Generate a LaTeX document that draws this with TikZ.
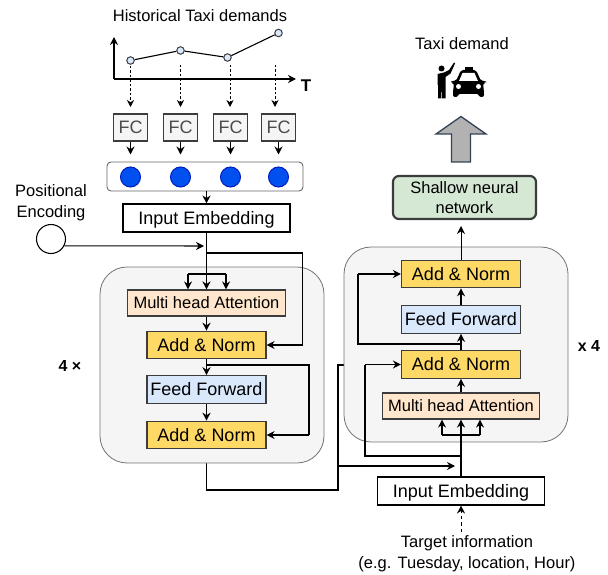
\documentclass[tikz,border=0pt]{standalone}
\usepackage{fontspec}
\setmainfont{Liberation Sans}
\definecolor{addfill}{HTML}{FFD966}
\definecolor{feedfill}{HTML}{DAE8FC}
\definecolor{attfill}{HTML}{FFE6CC}
\definecolor{shalfill}{HTML}{D5E8D4}
\definecolor{panelfill}{HTML}{F5F5F5}
\definecolor{edgegray}{HTML}{3C3C3C}
\definecolor{dotblue}{HTML}{0050EF}
\definecolor{dotedge}{HTML}{001DBC}
\definecolor{upedge}{HTML}{314354}
\usetikzlibrary{arrows.meta}
\tikzset{
  wire/.style = {-{Stealth[length=8pt,width=8pt]}, line width = 1.05pt},
  plainwire/.style = {line width = 1.05pt},
  dashwire/.style = {-{Stealth[length=7pt,width=7pt]}, dash pattern = on 2.5pt off 2pt, line width = .7pt},
  box/.style = {draw = edgegray, line width = 1.1pt, minimum height = 27.5pt, inner sep = 0pt, font = \fontsize{18}{18}\selectfont},
  addbox/.style = {box, fill = addfill, minimum width = 119pt},
  feedbox/.style = {box, fill = feedfill, minimum width = 119pt},
  attbox/.style = {box, fill = attfill, minimum width = 157.5pt, minimum height = 26pt, font = \fontsize{16.5}{16.5}\selectfont},
  embbox/.style = {draw = black, line width = 1.05pt, minimum width = 167pt, minimum height = 28pt, inner sep = 0pt, text height = 15.5pt, text depth = 2pt, font = \fontsize{18}{18}\selectfont},
  fcbox/.style = {draw = edgegray, fill = panelfill, line width = 1.1pt, minimum width = 34pt, minimum height = 27pt, inner sep = 0pt, text = black!70, font = \fontsize{18}{18}\selectfont},
  panel/.style = {draw = black!55, fill = panelfill, line width = .8pt, rounded corners = 27pt},
  blob/.style = {circle, draw = dotedge, fill = dotblue, line width = 1pt, minimum size = 20pt, inner sep = 0pt},
  point/.style = {circle, draw = edgegray, fill = feedfill, line width = 1pt, minimum size = 7.5pt, inner sep = 0pt},
  txt/.style = {inner sep = 0pt, align = center, font = \fontsize{16.5}{20.5}\selectfont},
  count/.style = {inner sep = 0pt, font = \bfseries\fontsize{16}{16}\selectfont}
}
\begin{document}
\begin{tikzpicture}
      [x = 1pt, y = -1pt]
      \useasboundingbox (0,0) rectangle (608,575);
      \node[txt] (histlabel) at (200,15.5) {Historical Taxi demands};
      \coordinate (origin) at (114,79);
      \coordinate (ytop) at (114,37);
      \coordinate (xend) at (296,79);
      \draw[wire, line width = 1.3pt] (origin) -- (ytop);
      \draw[wire, line width = 1.3pt] (origin) -- (xend);
      \node[inner sep = 0pt, font = \bfseries\fontsize{17}{17}\selectfont] (tlabel) at (306,86) {T};
      \foreach \n/\x/\y in {1/130.5/60.5, 2/180.5/50.5, 3/227.5/57.5, 4/278.5/33}
        \node[point] (m\n) at (\x,\y) {};
      \draw[line width = 1.1pt] (m1) -- (m2) -- (m3) -- (m4);
      \foreach \n/\x in {1/130.5, 2/180.5, 3/230.5, 4/278.5} {
        \node[fcbox] (fc\n) at (\x,127.5) {FC};
        \node[blob] (blob\n) at (\x,177) {};
        \draw[wire, shorten >= 12pt] (fc\n) -- (blob\n);
      }
      \foreach \n/\x/\y in {1/130.5/66, 2/180.5/65, 3/230/65, 4/275/65} {
        \coordinate (ds\n) at (\x,\y);
        \coordinate (de\n) at (\x,107);
        \draw[dashwire] (ds\n) -- (de\n);
      }
      \node[draw = black!60, line width = .9pt, rounded corners = 4pt, minimum width = 196pt, minimum height = 29pt, inner sep = 0pt] (blobrow) at (205,176.5) {};
      \node[embbox] (embleft) at (206.5,218) {Input Embedding};
      \draw[wire] (blobrow.south -| embleft) -- (embleft);
      \node[txt] (poslabel) at (51,202.5) {Positional\\Encoding};
      \node[circle, draw = black, line width = 1.05pt, fill = white, minimum size = 29pt, inner sep = 0pt] (posenc) at (51,239) {};
      \coordinate (posend) at (204,246);
      \draw[wire] (posenc.-27) -- (posend);

      \coordinate (leftsplit) at (206.5,253);
      \coordinate (leftdown) at (206.5,490);
      \coordinate (crossbot) at (338,490);
      \coordinate (crosstop) at (338,365);
      \coordinate (crossmid) at (338,466);
      \coordinate (crossend) at (455,466);
      \coordinate (crossin) at (350,365);
      \node[inner sep = 0pt, minimum size = 0pt] (lastleft) at (206.5,449) {};
      \draw[plainwire] (lastleft) -- (leftdown) -- (crossbot) -- (crosstop) -- (crossin);
      \draw[wire] (crossmid) -- (crossend);

      \draw[panel] (100,267) rectangle (324,463);
      \draw[panel] (344,247) rectangle (568,442);

      \node[attbox] (attleft) at (206.5,303) {Multi head Attention};
      \node[addbox] (addlefta) at (206.5,345) {Add \& Norm};
      \node[feedbox] (feedleft) at (206.5,389.5) {Feed Forward};
      \node[addbox] (addleftb) at (206.5,435) {Add \& Norm};
      \coordinate (leftbl) at (188,274);
      \coordinate (leftbr) at (226,274);
      \coordinate (leftside) at (302.5,345);
      \coordinate (skipleft) at (206.5,365);
      \coordinate (skipside) at (309,435);
      \draw[plainwire, line width = 1.5pt] (embleft) -- (leftsplit);
      \draw[wire, line width = 1.5pt] (leftsplit) -- (attleft);
      \draw[plainwire] (leftsplit) -| (leftside);
      \draw[wire] (leftside) -- (addlefta);
      \draw[plainwire] (leftbl) -- (leftbr);
      \draw[wire] (leftbl) -- (leftbl |- attleft.north);
      \draw[wire] (leftbr) -- (leftbr |- attleft.north);
      \draw[wire, line width = 1.5pt] (attleft) -- (addlefta);
      \draw[wire, line width = 1.5pt] (addlefta) -- (feedleft);
      \draw[wire, line width = 1.5pt] (feedleft) -- (addleftb);
      \draw[plainwire] (skipleft) -| (skipside);
      \draw[wire] (skipside) -- (addleftb);

      \node[attbox] (attright) at (461,406) {Multi head Attention};
      \node[addbox] (addrighta) at (461,364.5) {Add \& Norm};
      \node[feedbox] (feedright) at (461,319.5) {Feed Forward};
      \node[addbox] (addrightb) at (461,274) {Add \& Norm};
      \node[embbox] (embright) at (461,491) {Input Embedding};
      \coordinate (rightsplit) at (461,456);
      \coordinate (rightbl) at (442,435);
      \coordinate (rightbr) at (480,435);
      \coordinate (rightloopa) at (365,364.5);
      \coordinate (rightskip) at (461,344);
      \coordinate (rightloopb) at (358,274);
      \draw[wire, line width = 1.8pt] (embright) -- (attright);
      \draw[plainwire] (rightbl) -- (rightbr);
      \draw[wire] (rightbl) -- (rightbl |- attright.south);
      \draw[wire] (rightbr) -- (rightbr |- attright.south);
      \draw[plainwire] (rightsplit) -| (rightloopa);
      \draw[wire] (rightloopa) -- (addrighta);
      \draw[wire] (attright) -- (addrighta);
      \draw[wire] (addrighta) -- (feedright);
      \draw[plainwire] (rightskip) -| (rightloopb);
      \draw[wire] (rightloopb) -- (addrightb);
      \draw[wire] (feedright) -- (addrightb);

      \node[draw = edgegray, fill = shalfill, line width = 2.2pt, rounded corners = 6pt, minimum width = 143pt, minimum height = 43pt, inner sep = 0pt, align = center, font = \fontsize{16.5}{20}\selectfont] (shallow) at (464.5,197.5) {Shallow neural\\network};
      \coordinate (shallowin) at (461,226);
      \draw[wire, line width = 1pt] (addrightb) -- (shallowin);

      \draw[draw = upedge, fill = black!30, line width = 1.3pt] (461,116.5) -- (486,134) -- (470.5,134) -- (470.5,162) -- (451.5,162) -- (451.5,134) -- (436,134) -- cycle;
      \node[txt] (taxilabel) at (462,43.5) {Taxi demand};
      \fill (441.5,68.5) circle (3pt);
      \fill (437.5,74) -- (444,72.5) -- (449,70) -- (454,62.5) -- (455,63.5) -- (450.5,73.5) -- (445.5,77) -- (445.5,98.5) -- (442,98.5) -- (441.5,86) -- (441,98.5) -- (438,98.5) -- (438,85) -- (437.5,85) -- cycle;
      \fill (465,67) rectangle (473,71);
      \fill[rounded corners = 2pt] (461,70) -- (476,70) -- (481,81) -- (486,81) -- (486,83) -- (483,83.5) -- (484,92) -- (484,97) -- (479,97) -- (479,94) -- (458,94) -- (458,97) -- (453,97) -- (453,92) -- (454,83.5) -- (451,83) -- (451,81) -- (456,81) -- cycle;
      \fill[white] (462.5,73) -- (474.5,73) -- (478,81) -- (459,81) -- cycle;
      \fill[white] (458.5,86.5) circle (2.5pt);
      \fill[white] (478.5,86.5) circle (2.5pt);

      \node[txt, font = \fontsize{16.5}{21}\selectfont] (targetlabel) at (467,554) {Target information\\(e.g. Tuesday, location, Hour)};
      \coordinate (targetstart) at (461,532);
      \draw[wire, dash pattern = on 3.5pt off 3pt, line width = 1pt] (targetstart) -- (embright);
      \node[count] (leftcount) at (70,366) {4 ×};
      \node[count] (rightcount) at (589,345.5) {x 4};
\end{tikzpicture}
\end{document}
